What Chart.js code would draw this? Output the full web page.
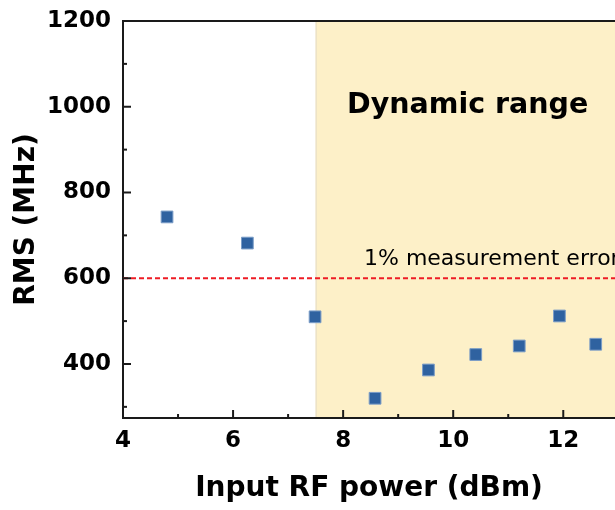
<!DOCTYPE html>
<html>
<head>
<meta charset="utf-8">
<script src="https://cdn.jsdelivr.net/npm/chart.js@4.4.1/dist/chart.umd.min.js"></script>
<style>
  body { margin: 0; background: #fff; }
  #wrap { width: 615px; height: 510px; }
</style>
</head>
<body>
<div id="wrap"><canvas id="rmsChart"></canvas></div>
<script>
const inputPower = [4.80, 6.26, 7.49, 8.58, 9.55, 10.41, 11.20, 11.93, 12.59];
const rmsValues = [743, 682, 510, 320, 386, 422, 442, 512, 446];
const xTicks = [4, 6, 8, 10, 12];
const xMinorTicks = [5, 7, 9, 11];
const yTicks = [400, 600, 800, 1000, 1200];
const yMinorTicks = [300, 500, 700, 900, 1100];
const dynamicRangeStart = 7.5;
const errorLevel = 600;

const fontFamily = '"DejaVu Sans", sans-serif';
Chart.defaults.font.family = fontFamily;

function drawTicks(ctx, scale, values, len, area) {
    values.forEach(v => {
        const p = scale.getPixelForValue(v);
        ctx.beginPath();
        if (scale.axis === 'x') {
            ctx.moveTo(p, area.bottom);
            ctx.lineTo(p, area.bottom - len);
        } else {
            ctx.moveTo(area.left, p);
            ctx.lineTo(area.left + len, p);
        }
        ctx.stroke();
    });
}

const decorPlugin = {
    id: 'decor',
    beforeDraw(chart) {
        const { ctx, chartArea: a, scales: { x } } = chart;
        const left = x.getPixelForValue(dynamicRangeStart);
        ctx.save();
        ctx.fillStyle = '#fdf0c8';
        ctx.fillRect(left, a.top, a.right - left, a.bottom - a.top);
        ctx.strokeStyle = '#e4dcc4';
        ctx.lineWidth = 1;
        ctx.beginPath();
        ctx.moveTo(left + 0.5, a.top);
        ctx.lineTo(left + 0.5, a.bottom);
        ctx.stroke();
        ctx.restore();
    },
    beforeDatasetsDraw(chart) {
        const { ctx, chartArea: a, scales: { y } } = chart;
        const yPx = y.getPixelForValue(errorLevel);
        ctx.save();
        ctx.strokeStyle = '#ee1c25';
        ctx.lineWidth = 1.8;
        ctx.setLineDash([5, 3]);
        ctx.beginPath();
        ctx.moveTo(a.left, yPx);
        ctx.lineTo(a.right, yPx);
        ctx.stroke();
        ctx.setLineDash([]);
        ctx.fillStyle = '#000';
        ctx.textBaseline = 'alphabetic';
        ctx.font = '22px ' + fontFamily;
        ctx.fillText('1% measurement error', 364, yPx - 13);
        ctx.font = 'bold 28.5px ' + fontFamily;
        ctx.fillText('Dynamic range', 347, 113);
        ctx.restore();
    },
    afterDraw(chart) {
        const { ctx, chartArea: a, scales: { x, y } } = chart;
        ctx.save();
        ctx.strokeStyle = '#1a1a1a';
        ctx.lineWidth = 2;
        ctx.beginPath();
        ctx.moveTo(a.left, a.top);
        ctx.lineTo(a.right, a.top);
        ctx.stroke();
        drawTicks(ctx, x, xTicks, 8, a);
        drawTicks(ctx, x, xMinorTicks, 4, a);
        drawTicks(ctx, y, yTicks, 8, a);
        drawTicks(ctx, y, yMinorTicks, 4, a);
        ctx.restore();
    }
};

const tickFont = { family: fontFamily, size: 23, weight: 'bold' };
const titleFont = { family: fontFamily, size: 28, weight: 'bold' };

new Chart(document.getElementById('rmsChart'), {
    type: 'scatter',
    data: {
        datasets: [{
            data: inputPower.map((v, i) => ({ x: v, y: rmsValues[i] })),
            pointStyle: 'rect',
            pointRadius: 8.3,
            backgroundColor: '#2f62a0',
            borderColor: '#7b9dc7',
            borderWidth: 1
        }]
    },
    options: {
        responsive: true,
        maintainAspectRatio: false,
        animation: false,
        layout: { autoPadding: false, padding: { top: 21, right: 0, left: 0, bottom: 0 } },
        plugins: { legend: { display: false }, tooltip: { enabled: false } },
        scales: {
            x: {
                type: 'linear',
                min: 4,
                max: 12.94,
                afterBuildTicks: s => { s.ticks = xTicks.map(v => ({ value: v })); },
                afterFit: s => {
                    s.height = 92;
                    s.paddingLeft = 0;
                    s.paddingRight = 0;
                },
                grid: { drawOnChartArea: false, drawTicks: false },
                border: { color: '#1a1a1a', width: 2 },
                ticks: { color: '#000', font: tickFont, padding: 9, callback: v => String(v) },
                title: {
                    display: true,
                    text: 'Input RF power (dBm)',
                    color: '#000',
                    font: titleFont,
                    padding: { top: 0, bottom: 4 }
                }
            },
            y: {
                min: 274,
                max: 1200,
                afterBuildTicks: s => { s.ticks = yTicks.map(v => ({ value: v })); },
                afterFit: s => {
                    s.width = 123;
                    s.paddingTop = 0;
                    s.paddingBottom = 0;
                },
                grid: { drawOnChartArea: false, drawTicks: false },
                border: { color: '#1a1a1a', width: 2 },
                ticks: { color: '#000', font: tickFont, padding: 12, callback: v => String(v) },
                title: {
                    display: true,
                    text: 'RMS (MHz)',
                    color: '#000',
                    font: titleFont,
                    padding: { top: 10, bottom: 0 }
                }
            }
        }
    },
    plugins: [decorPlugin]
});
</script>
</body>
</html>
